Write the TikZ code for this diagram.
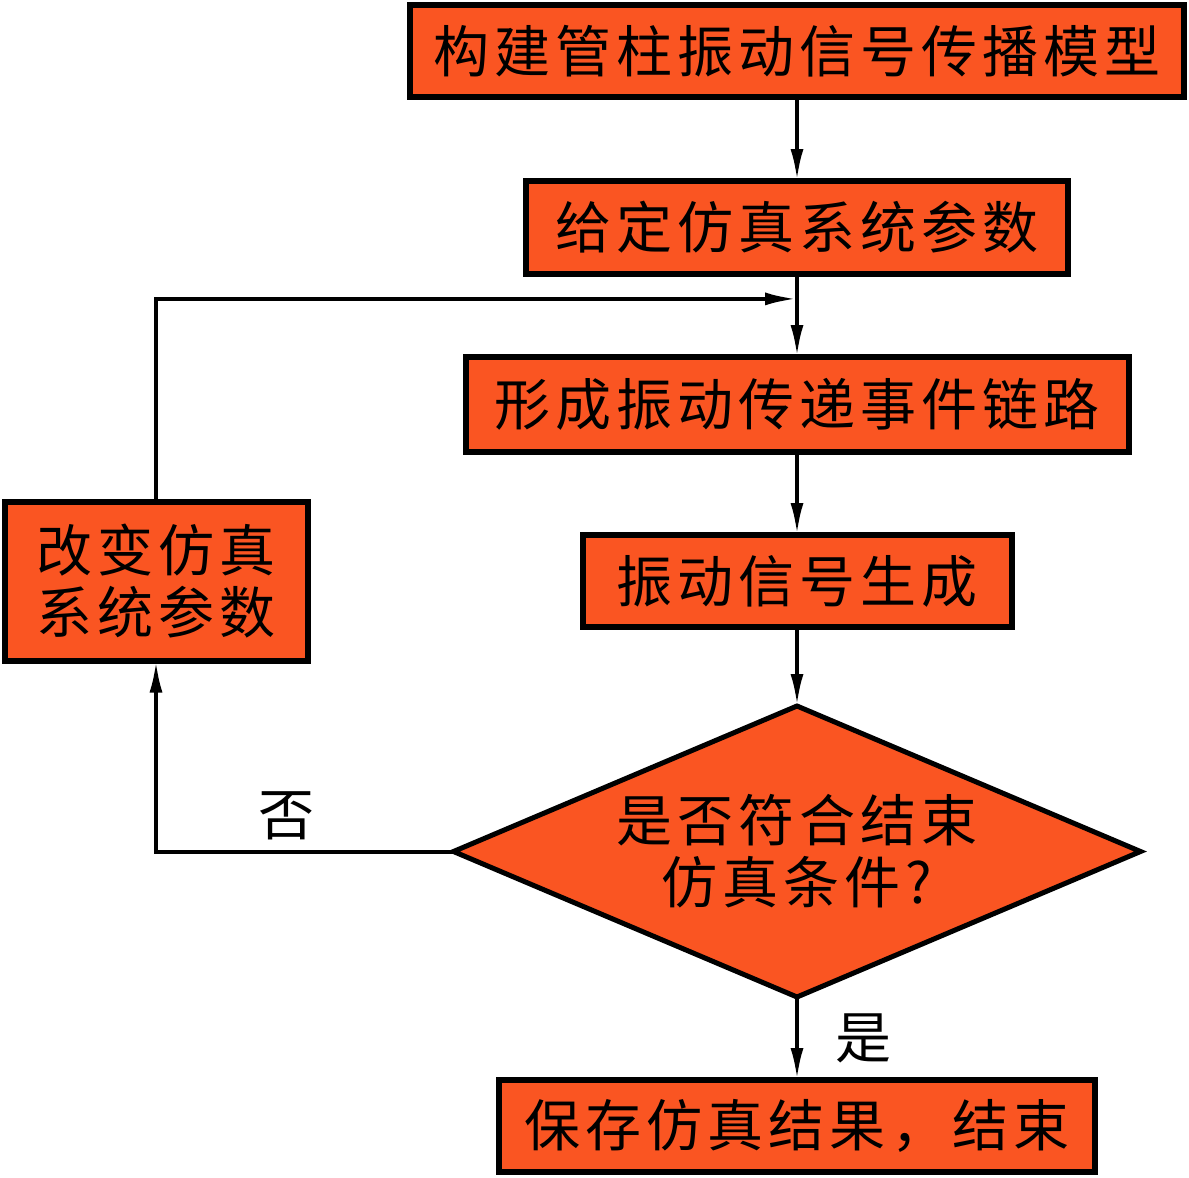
\documentclass[tikz,border=0pt]{standalone}
\usepackage{fontspec}
\newfontfamily\cjk[LetterSpace=9]{Noto Sans CJK SC}
\usetikzlibrary{positioning}
\usetikzlibrary{shapes.geometric,calc,arrows.meta}
\definecolor{boxred}{RGB}{250,85,34}

\begin{document}
\begin{tikzpicture}[every node/.style={outer sep=0pt},
		stage/.style={draw,line width=3pt,fill=boxred,minimum height=46pt,inner sep=0pt,
		font=\cjk\fontsize{28}{31}\selectfont},
		decide/.style={draw,diamond,line width=2.5pt,fill=boxred,aspect=2.36,inner sep=0pt,
		minimum width=343.5pt,minimum height=145.5pt,align=center,font=\cjk\fontsize{28}{31}\selectfont},
		flow/.style={line width=2pt,-{Latex[length=16pt,width=6.5pt]}},
		tag/.style={inner sep=0pt,font=\cjk\fontsize{28}{31}\selectfont},
		node distance=41.5pt,
		]
		\useasboundingbox (0,0) rectangle (594.5pt,-589pt);
		\node[stage,minimum width=387pt] (model) at (398.5pt,-25.5pt) {构建管柱振动信号传播模型};
		\node[stage,minimum width=271pt,minimum height=46.5pt,below=42pt of model] (param) {给定仿真系统参数};
		\node[stage,minimum width=331.5pt,minimum height=47.5pt,below=of param] (chain) {形成振动传递事件链路};
		\node[stage,minimum width=214.5pt,below=of chain] (signal) {振动信号生成};
		\node[decide,below=39.5pt of signal] (check) {是否符合结束\\仿真条件?};
		\node[stage,minimum width=298pt,below=of check] (save) {保存仿真结果，结束};
		\node[stage,minimum width=151.5pt,minimum height=79.5pt,align=center,left=137.5pt of signal] (change) {改变仿真\\系统参数};
		\coordinate (join) at ($(param.south)!0.3!(chain.north)$);

		\draw[flow] (model) -- (param);
		\draw[flow] (param) -- (chain);
		\draw[flow] (chain) -- (signal);
		\draw[flow] (signal) -- (check);
		\draw[flow] (check) -- (save) node[tag,midway,right=19pt]{是};

		% loop back when the end condition is not met
		\draw[flow] (check.west) -| (change.south) node[tag,pos=0.28,above=6pt]{否};
		\draw[flow] (change.north) |- (join);
\end{tikzpicture}
\end{document}
